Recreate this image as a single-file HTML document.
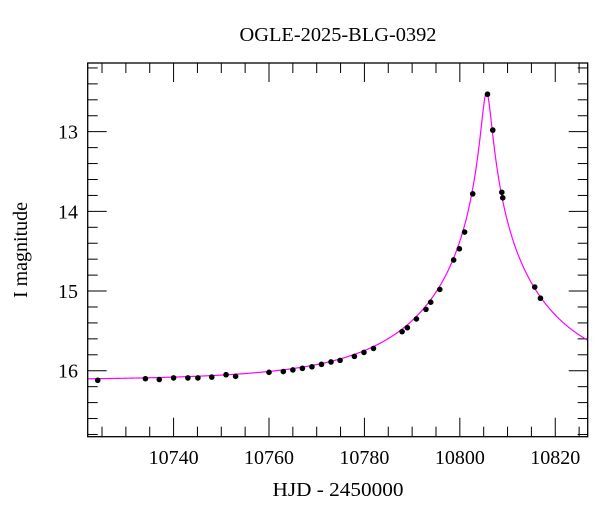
<!DOCTYPE html>
<html><head><meta charset="utf-8"><style>
body{margin:0;background:#fff;}
svg text{font-family:"Liberation Serif",serif;fill:#000;}
</style></head><body>
<svg id="chart" width="600" height="512" xmlns="http://www.w3.org/2000/svg">
<text x="338" y="41" font-size="20" text-anchor="middle" textLength="197" lengthAdjust="spacingAndGlyphs">OGLE-2025-BLG-0392</text>
<text x="338" y="496" font-size="20" text-anchor="middle" textLength="131" lengthAdjust="spacingAndGlyphs">HJD - 2450000</text>
<text x="0" y="0" font-size="20" text-anchor="middle" transform="translate(27,250) rotate(-90)">I magnitude</text>
<g id="ticks"></g>
<g id="curve"></g>
<g id="points"></g>
<rect x="87.7" y="63" width="500" height="373.7" fill="none" stroke="#000" stroke-width="1.3"/>
</svg>
<script>
const days=[10724.1,10734.1,10737.0,10740.0,10743.0,10745.1,10748.0,10751.0,10753.0,10760.0,10763.0,10765.0,10767.0,10769.0,10771.0,10773.0,10774.9,10777.9,10779.9,10781.9,10787.9,10789.0,10790.9,10792.9,10793.9,10795.8,10798.7,10799.9,10801.0,10802.7,10805.8,10806.9,10808.8,10809.0,10815.7,10816.9];
const mags=[16.12,16.10,16.11,16.09,16.09,16.09,16.08,16.05,16.07,16.02,16.01,15.99,15.97,15.95,15.92,15.89,15.87,15.82,15.77,15.72,15.51,15.46,15.35,15.23,15.14,14.98,14.61,14.47,14.26,13.78,12.53,12.98,13.76,13.83,14.95,15.09];
const xTickLabels=[10740,10760,10780,10800,10820];
const yTickLabels=[13,14,15,16];
const model={t0:10805.6,u0:0.036,tE:28.0,base:16.12};
const X0=87.7,X1=587.7,Y0=63,Y1=436.7;
const xmin=10722.0,xmax=10826.8,ymin=12.138,ymax=16.828;
const sx=v=>X0+(v-xmin)/(xmax-xmin)*(X1-X0);
const sy=v=>Y0+(v-ymin)/(ymax-ymin)*(Y1-Y0);
const NS='http://www.w3.org/2000/svg';
function mk(tag,attrs,parent){const e=document.createElementNS(NS,tag);for(const k in attrs)e.setAttribute(k,attrs[k]);parent.appendChild(e);return e;}
const tg=document.getElementById('ticks');
for(let v=10725;v<=xmax;v+=5){
  const major=v%20===0;const L=major?19:10;const x=sx(v);
  let t=mk('line',{x1:x,x2:x,y1:Y1,y2:Y1-L,stroke:'#000','stroke-width':1},tg);
  
  
  t=mk('line',{x1:x,x2:x,y1:Y0,y2:Y0+L,stroke:'#000','stroke-width':1},tg);
  
  
}
xTickLabels.forEach(v=>{
  const t=mk('text',{x:sx(v),y:464,'font-size':20,'text-anchor':'middle',textLength:50,lengthAdjust:'spacingAndGlyphs'},tg);t.textContent=v;
  
  
});
for(let i=Math.ceil(ymin*5);i<=ymax*5;i++){
  const v=i/5;const major=i%5===0;const L=major?19:10;const y=sy(v);
  let t=mk('line',{x1:X0,x2:X0+L,y1:y,y2:y,stroke:'#000','stroke-width':1},tg);
  
  
  t=mk('line',{x1:X1,x2:X1-L,y1:y,y2:y,stroke:'#000','stroke-width':1},tg);
  
  
}
yTickLabels.forEach(v=>{
  const t=mk('text',{x:78,y:sy(v)+7,'font-size':20,'text-anchor':'end'},tg);t.textContent=v;
  
  
});
function modelMag(t){const tau=(t-model.t0)/model.tE;const u=Math.sqrt(tau*tau+model.u0*model.u0);const A=(u*u+2)/(u*Math.sqrt(u*u+4));return model.base-2.5*Math.log10(A);}
let d='';for(let t=xmin;t<=xmax;t+=0.05){d+=(d?'L':'M')+sx(t).toFixed(2)+','+sy(modelMag(t)).toFixed(2);}
const cp=mk('path',{d:d,fill:'none',stroke:'#ff00ff','stroke-width':1.2},document.getElementById('curve'));


const pg=document.getElementById('points');
days.forEach((t,i)=>{
  const c=mk('circle',{cx:sx(t),cy:sy(mags[i]),r:2.8,fill:'#000'},pg);
  
  
});
</script>
</body></html>
